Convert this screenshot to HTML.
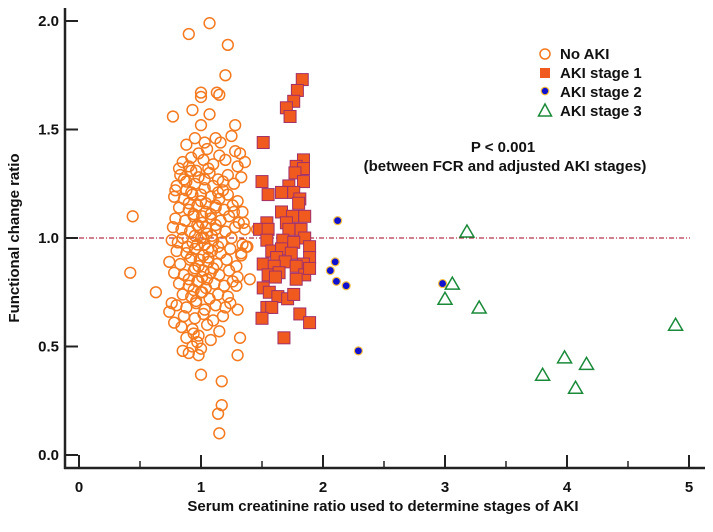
<!DOCTYPE html>
<html><head><meta charset="utf-8"><style>
html,body{margin:0;padding:0;background:#fff;}
svg{display:block;font-family:"Liberation Sans",Arial,sans-serif;}
</style></head><body>
<svg id="chart" width="713" height="532" viewBox="0 0 713 532" xmlns="http://www.w3.org/2000/svg">
<g id="axes"></g>
<g id="marks"></g>
<g font-size="15" font-weight="bold" fill="#111">
  <g><circle cx="545" cy="54" r="5" fill="none" stroke="#f47a20" stroke-width="1.5"/><text x="560" y="59">No AKI</text></g>
  <g><rect x="540" y="68" width="10" height="10" fill="#f05a1e"/><text x="560" y="78">AKI stage 1</text></g>
  <g><circle cx="545" cy="91" r="3.8" fill="#1010d0" stroke="#f5c040" stroke-width="1.2"/><text x="560" y="97">AKI stage 2</text></g>
  <g><polygon points="545,104 551.5,116 538.5,116" fill="none" stroke="#1a8a3a" stroke-width="1.5"/><text x="560" y="116">AKI stage 3</text></g>
</g>
<g font-size="15" font-weight="bold" fill="#111" text-anchor="middle">
  <text x="503" y="152">P &lt; 0.001</text>
  <text x="505" y="171">(between FCR and adjusted AKI stages)</text>
</g>
<text x="383" y="511" font-size="15" font-weight="bold" text-anchor="middle" fill="#111">Serum creatinine ratio used to determine stages of AKI</text>
<text transform="translate(19,238) rotate(-90)" font-size="15" font-weight="bold" text-anchor="middle" fill="#111">Functional change ratio</text>
</svg>
<script>
const xTicks=[0,1,2,3,4,5];
const yTicks=[0.0,0.5,1.0,1.5,2.0];
const refLineY=1.0;
const noAkiX=[0.44,0.42,0.63,0.90,1.07,1.22,1.20,1.00,1.00,1.15,1.13,0.77,0.93,1.07,1.00,1.28,1.00,1.17,1.17,1.14,1.15,1.30,1.32,0.90,0.98,1.40,1.46,1.37,1.34,
0.95,1.03,1.12,1.16,1.25,0.88,
0.98,1.05,1.15,1.28,1.32,0.92,
0.85,0.90,1.02,1.10,1.20,1.30,1.36,0.96,1.06,
0.83,0.92,0.98,1.07,1.14,1.22,1.33,0.88,1.03,1.18,
0.80,0.88,0.95,1.03,1.10,1.18,1.27,0.92,1.00,1.14,
0.78,0.86,0.93,1.00,1.08,1.15,1.22,1.30,0.90,1.04,1.12,
0.82,0.90,0.97,1.04,1.12,1.19,1.26,1.34,0.94,1.01,1.08,
0.79,0.87,0.94,1.01,1.08,1.16,1.23,1.31,0.97,1.04,1.12,
0.84,0.91,0.98,1.05,1.12,1.20,1.28,1.36,0.95,1.02,1.09,
0.76,0.85,0.93,1.00,1.03,1.10,1.17,1.25,0.89,0.97,1.06,1.14,
0.80,0.88,0.95,1.02,1.09,1.16,1.24,1.33,0.92,0.99,1.06,1.38,
0.74,0.83,0.91,0.98,1.06,1.13,1.21,1.29,0.95,1.02,1.10,
0.78,0.86,0.94,1.01,1.08,1.15,1.23,1.30,0.90,0.98,1.05,
0.82,0.90,0.97,1.04,1.11,1.19,1.26,0.94,1.01,
0.85,0.92,1.00,1.07,1.14,1.22,0.76,0.96,
0.80,0.88,0.96,1.03,1.12,1.20,0.74,
0.86,0.95,1.02,1.10,1.18,1.30,0.78,
0.84,0.93,1.05,1.15,0.98,
0.88,0.97,1.08,0.93,
0.85,1.00,0.94,
0.82,1.27,0.79,1.33,0.81,1.35,0.86,1.29,0.77,1.24];
const noAkiY=[1.10,0.84,0.75,1.94,1.99,1.89,1.75,1.67,1.65,1.66,1.67,1.56,1.59,1.57,1.52,1.52,0.37,0.34,0.23,0.19,0.10,0.46,0.54,0.47,0.46,0.81,1.04,0.96,0.97,
1.46,1.44,1.46,1.44,1.47,1.43,
1.39,1.41,1.38,1.40,1.39,1.37,
1.35,1.33,1.36,1.34,1.36,1.33,1.35,1.31,1.32,
1.29,1.31,1.28,1.30,1.27,1.29,1.28,1.26,1.27,1.26,
1.24,1.22,1.25,1.23,1.24,1.22,1.25,1.21,1.20,1.21,
1.19,1.18,1.20,1.17,1.19,1.18,1.20,1.17,1.16,1.16,1.15,
1.14,1.13,1.15,1.12,1.14,1.13,1.15,1.12,1.11,1.10,1.11,
1.09,1.08,1.10,1.07,1.09,1.08,1.10,1.07,1.06,1.05,1.06,
1.04,1.03,1.05,1.02,1.04,1.03,1.05,1.04,1.01,1.00,1.01,
0.99,1.00,0.98,1.00,0.97,0.99,0.98,1.00,0.96,0.97,0.95,0.96,
0.94,0.93,0.95,0.92,0.94,0.93,0.95,0.92,0.91,0.90,0.91,0.96,
0.89,0.88,0.90,0.87,0.89,0.88,0.90,0.87,0.86,0.85,0.86,
0.84,0.83,0.85,0.82,0.84,0.83,0.85,0.82,0.81,0.80,0.81,
0.79,0.78,0.80,0.77,0.79,0.78,0.80,0.76,0.75,
0.74,0.73,0.75,0.72,0.74,0.73,0.70,0.71,
0.69,0.68,0.70,0.67,0.69,0.68,0.66,
0.64,0.63,0.65,0.62,0.64,0.67,0.61,
0.59,0.58,0.60,0.57,0.55,
0.54,0.52,0.53,0.50,
0.48,0.49,0.56,
1.32,1.12,1.22,0.93,0.98,1.07,1.27,0.78,1.05,0.70];
const stage1X=[1.51,1.83,1.79,1.76,1.70,1.73,1.50,1.55,1.84,1.78,1.84,1.77,1.72,1.84,1.66,1.76,1.81,1.80,1.66,1.75,1.85,1.54,1.70,1.48,1.55,1.82,1.72,1.54,1.67,1.85,1.76,1.58,1.66,1.89,1.74,1.62,1.89,1.51,1.69,1.84,1.60,1.78,1.55,1.64,1.85,1.89,1.61,1.78,1.51,1.56,1.63,1.71,1.76,1.54,1.58,1.50,1.81,1.89,1.68];
const stage1Y=[1.44,1.73,1.68,1.63,1.60,1.56,1.26,1.20,1.36,1.33,1.32,1.30,1.24,1.26,1.21,1.21,1.18,1.16,1.12,1.10,1.10,1.07,1.07,1.04,1.04,1.04,1.04,0.99,0.99,1.00,0.98,0.94,0.95,0.96,0.93,0.91,0.91,0.88,0.89,0.88,0.87,0.87,0.83,0.84,0.83,0.86,0.82,0.81,0.77,0.75,0.73,0.72,0.74,0.68,0.68,0.63,0.65,0.61,0.54];
const stage2X=[2.12,2.10,2.06,2.11,2.19,2.29,2.98];
const stage2Y=[1.08,0.89,0.85,0.80,0.78,0.48,0.79];
const stage3X=[3.18,3.06,3.00,3.28,4.89,3.98,4.16,3.80,4.07];
const stage3Y=[1.03,0.79,0.72,0.68,0.60,0.45,0.42,0.37,0.31];

const X0=79, XS=122, Y0=455, YS=217;
const sx=v=>X0+v*XS, sy=v=>Y0-v*YS;
const NS="http://www.w3.org/2000/svg";
function mk(tag,attrs,parent){const e=document.createElementNS(NS,tag);for(const k in attrs)e.setAttribute(k,attrs[k]);parent.appendChild(e);return e;}
const axes=document.getElementById('axes'), marks=document.getElementById('marks');
let e;
e=mk('line',{x1:65,y1:8,x2:65,y2:469,stroke:'#222','stroke-width':2.5},axes);


e=mk('line',{x1:64,y1:468,x2:705,y2:468,stroke:'#222','stroke-width':2.5},axes);


xTicks.forEach(t=>{
  e=mk('line',{x1:sx(t),y1:455,x2:sx(t),y2:468,stroke:'#222','stroke-width':2},axes);
  
  
  if(t<5){e=mk('line',{x1:sx(t+0.5),y1:461,x2:sx(t+0.5),y2:468,stroke:'#222','stroke-width':1.5},axes);
  
  }
  e=mk('text',{x:sx(t),y:492,'font-size':15,'font-weight':'bold','text-anchor':'middle',fill:'#111'},axes);
  e.textContent=String(t);
  
  
});
yTicks.forEach(t=>{
  e=mk('line',{x1:65,y1:sy(t),x2:78,y2:sy(t),stroke:'#222','stroke-width':2},axes);
  
  
  e=mk('text',{x:59,y:sy(t)+5,'font-size':15,'font-weight':'bold','text-anchor':'end',fill:'#111'},axes);
  e.textContent=t.toFixed(1);
  
  
});
e=mk('line',{x1:sx(0),y1:sy(refLineY),x2:690,y2:sy(refLineY),stroke:'#a00018','stroke-width':1.1,'stroke-dasharray':'5,2,1,2'},axes);


noAkiX.forEach((x,i)=>{
  e=mk('circle',{cx:sx(x),cy:sy(noAkiY[i]),r:5.4,fill:'none',stroke:'#f47a20','stroke-width':1.5},marks);
  
  
});
stage1X.forEach((x,i)=>{
  e=mk('rect',{x:sx(x)-6,y:sy(stage1Y[i])-6,width:12,height:12,fill:'#f05a1e',stroke:'#a0306a','stroke-width':1},marks);
  
  
});
stage2X.forEach((x,i)=>{
  e=mk('circle',{cx:sx(x),cy:sy(stage2Y[i]),r:4,fill:'#1010d0',stroke:'#f5c040','stroke-width':1.2},marks);
  
  
});
stage3X.forEach((x,i)=>{
  const cx=sx(x), cy=sy(stage3Y[i]);
  e=mk('polygon',{points:`${cx},${cy-6.5} ${cx+7},${cy+5.5} ${cx-7},${cy+5.5}`,fill:'none',stroke:'#1a8a3a','stroke-width':1.5},marks);
  
  
});
</script>
</body></html>
